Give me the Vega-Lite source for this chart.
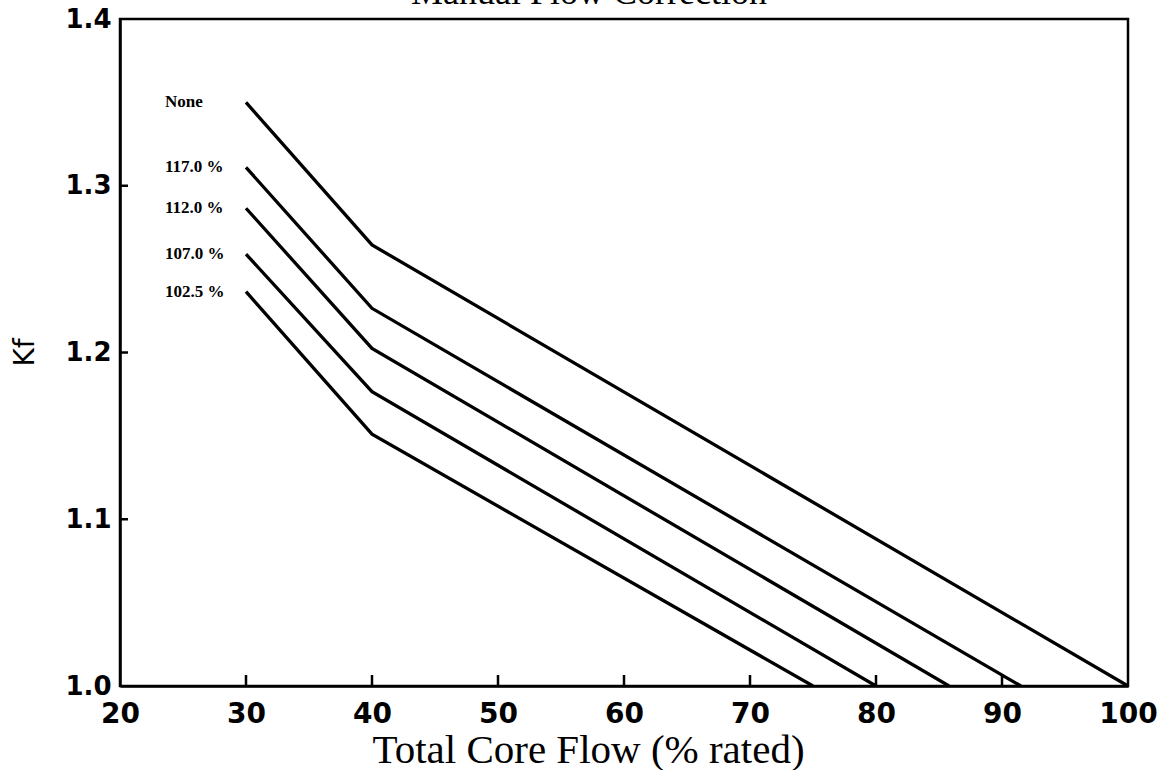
{
  "$schema": "https://vega.github.io/schema/vega-lite/v6.json",
  "autosize": "none",
  "width": 1008,
  "height": 667,
  "padding": {"left": 120, "top": 19, "right": 38, "bottom": 84},
  "background": "white",
  "title": {
    "text": "Manual Flow Correction",
    "font": "Liberation Serif",
    "fontSize": 36,
    "fontWeight": "normal",
    "color": "black",
    "anchor": "middle",
    "dx": -35,
    "dy": 10,
    "offset": 4
  },
  "config": {
    "view": {"stroke": "black", "strokeWidth": 2.5},
    "axis": {
      "domainColor": "black",
      "domainWidth": 2.5,
      "ticks": false,
      "grid": false,
      "labelColor": "black",
      "titleColor": "black"
    }
  },
  "datasets": {
    "curves": [
      {"setting": "None", "flow": 30, "kf": 1.35},
      {"setting": "None", "flow": 40, "kf": 1.2645},
      {"setting": "None", "flow": 100, "kf": 1.0},
      {"setting": "117.0 %", "flow": 30, "kf": 1.311},
      {"setting": "117.0 %", "flow": 40, "kf": 1.2265},
      {"setting": "117.0 %", "flow": 91.5, "kf": 1.0},
      {"setting": "112.0 %", "flow": 30, "kf": 1.2865},
      {"setting": "112.0 %", "flow": 40, "kf": 1.2025},
      {"setting": "112.0 %", "flow": 85.8, "kf": 1.0},
      {"setting": "107.0 %", "flow": 30, "kf": 1.259},
      {"setting": "107.0 %", "flow": 40, "kf": 1.1765},
      {"setting": "107.0 %", "flow": 80, "kf": 1.0},
      {"setting": "102.5 %", "flow": 30, "kf": 1.2365},
      {"setting": "102.5 %", "flow": 40, "kf": 1.151},
      {"setting": "102.5 %", "flow": 75, "kf": 1.0}
    ],
    "xticks": [
      {"t": 30}, {"t": 40}, {"t": 50}, {"t": 60}, {"t": 70}, {"t": 80}, {"t": 90}
    ],
    "yticks": [
      {"v": 1.1}, {"v": 1.2}, {"v": 1.3}
    ]
  },
  "layer": [
    {
      "data": {"name": "curves"},
      "mark": {"type": "line", "color": "black", "strokeWidth": 3.3, "clip": true},
      "encoding": {
        "x": {
          "field": "flow",
          "type": "quantitative",
          "scale": {"domain": [20, 100], "nice": false, "zero": false},
          "axis": {
            "values": [20, 30, 40, 50, 60, 70, 80, 90, 100],
            "format": "d",
            "labelPadding": 14,
            "labelFont": "DejaVu Sans",
            "labelFontWeight": "bold",
            "labelFontSize": 28,
            "labelFlush": false,
            "labelOverlap": false,
            "title": "Total Core Flow (% rated)",
            "titleFont": "Liberation Serif",
            "titleFontSize": 41,
            "titleFontWeight": "normal",
            "titleX": 468,
            "titleY": 76,
            "titleBaseline": "alphabetic",
            "titleAnchor": null
          }
        },
        "y": {
          "field": "kf",
          "type": "quantitative",
          "scale": {"domain": [1.0, 1.4], "nice": false, "zero": false},
          "axis": {
            "values": [1.0, 1.1, 1.2, 1.3, 1.4],
            "format": ".1f",
            "labelPadding": 9,
            "labelFont": "DejaVu Sans",
            "labelFontWeight": "bold",
            "labelFontSize": 26,
            "labelFlush": false,
            "labelOverlap": false,
            "title": "Kf",
            "titleFont": "DejaVu Sans",
            "titleFontSize": 28,
            "titleFontWeight": "normal",
            "titleAngle": -90,
            "titleX": -95,
            "titleY": 333,
            "titleAlign": "center",
            "titleBaseline": "middle"
          }
        },
        "detail": {"field": "setting"}
      }
    },
    {
      "data": {"name": "curves"},
      "transform": [{"filter": "datum.flow == 30"}],
      "mark": {
        "type": "text",
        "align": "left",
        "baseline": "middle",
        "dx": -81,
        "font": "Liberation Serif",
        "fontWeight": "bold",
        "fontSize": 17,
        "color": "black"
      },
      "encoding": {
        "x": {"field": "flow", "type": "quantitative"},
        "y": {"field": "kf", "type": "quantitative"},
        "text": {"field": "setting"}
      }
    },
    {
      "data": {"name": "xticks"},
      "mark": {"type": "tick", "orient": "vertical", "size": 11, "thickness": 2.5, "color": "black", "opacity": 1, "yOffset": -5.5},
      "encoding": {
        "x": {"field": "t", "type": "quantitative"},
        "y": {"datum": 1.0, "type": "quantitative"}
      }
    },
    {
      "data": {"name": "yticks"},
      "mark": {"type": "tick", "orient": "horizontal", "size": 8, "thickness": 2.5, "color": "black", "opacity": 1, "xOffset": 4},
      "encoding": {
        "y": {"field": "v", "type": "quantitative"},
        "x": {"datum": 20, "type": "quantitative"}
      }
    }
  ]
}
